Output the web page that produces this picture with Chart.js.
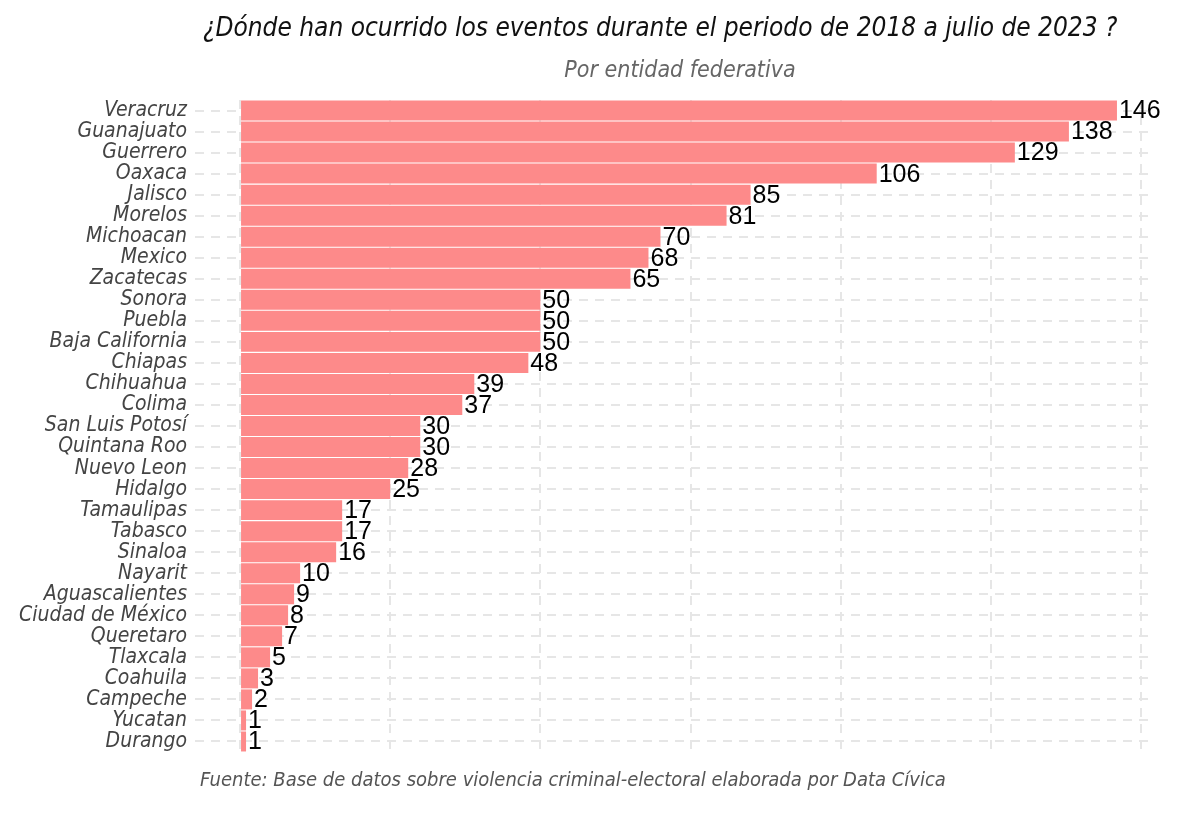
<!DOCTYPE html>
<html>
<head>
<meta charset="utf-8">
<script src="https://cdn.jsdelivr.net/npm/chart.js@4/dist/chart.umd.min.js"></script>
<style>
  body { margin: 0; background: #fff; }
  #wrap { position: relative; width: 1200px; height: 818px; }
  .txt { position: absolute; font-family: "Liberation Sans Narrow", "DejaVu Sans Condensed", sans-serif; font-style: italic; white-space: nowrap; }
  #title { top: 12px; left: 203px; font-size: 26px; color: #111; }
  #subtitle { top: 56px; left: 0; width: 1360px; text-align: center; font-size: 23px; color: #666; }
  #footer { top: 767px; left: 200px; font-size: 20px; color: #555; }
  canvas { position: absolute; left: 0; top: 0; }
</style>
</head>
<body>
<div id="wrap">
  <canvas id="myChart" width="1200" height="818"></canvas>
  <div class="txt" id="title">¿Dónde han ocurrido los eventos durante el periodo de 2018 a julio de 2023 ?</div>
  <div class="txt" id="subtitle">Por entidad federativa</div>
  <div class="txt" id="footer">Fuente: Base de datos sobre violencia criminal-electoral elaborada por Data Cívica</div>
</div>
<script>
const states = ['Veracruz', 'Guanajuato', 'Guerrero', 'Oaxaca', 'Jalisco', 'Morelos', 'Michoacan', 'Mexico',
  'Zacatecas', 'Sonora', 'Puebla', 'Baja California', 'Chiapas', 'Chihuahua', 'Colima', 'San Luis Potosí',
  'Quintana Roo', 'Nuevo Leon', 'Hidalgo', 'Tamaulipas', 'Tabasco', 'Sinaloa', 'Nayarit', 'Aguascalientes',
  'Ciudad de México', 'Queretaro', 'Tlaxcala', 'Coahuila', 'Campeche', 'Yucatan', 'Durango'];
const events = [146, 138, 129, 106, 85, 81, 70, 68, 65, 50, 50, 50, 48, 39, 37, 30, 30, 28, 25, 17, 17, 16,
  10, 9, 8, 7, 5, 3, 2, 1, 1];
const gridValues = [0, 25, 50, 75, 100, 125, 150];

// numbers at the end of each bar
const barLabels = {
  id: 'barLabels',
  afterDatasetsDraw(chart) {
    const ctx = chart.ctx;
    const meta = chart.getDatasetMeta(0);
    ctx.save();
    ctx.font = '25px "Liberation Sans", Arial, sans-serif';
    ctx.fillStyle = '#000';
    ctx.textBaseline = 'middle';
    meta.data.forEach((bar, i) => {
      ctx.fillText(String(events[i]), bar.x + 2, bar.y + 1);
    });
    ctx.restore();
  }
};

const ctx = document.getElementById('myChart').getContext('2d');
new Chart(ctx, {
  type: 'bar',
  data: {
    labels: states,
    datasets: [{
      data: events,
      backgroundColor: '#fd8a8a',
      barPercentage: 0.95,
      categoryPercentage: 1
    }]
  },
  options: {
    indexAxis: 'y',
    responsive: false,
    animation: false,
    layout: { padding: { top: 100, bottom: 66, right: 47, left: 0 } },
    plugins: { legend: { display: false }, tooltip: { enabled: false } },
    scales: {
      x: {
        min: -7.5,
        max: 152,
        afterBuildTicks: (s) => { s.ticks = gridValues.map(v => ({ value: v })); },
        ticks: { display: false },
        grid: { color: '#e6e6e6', lineWidth: 2, drawTicks: false },
        border: { display: false, dash: [9, 7] }
      },
      y: {
        afterFit: (s) => { s.width = 195; },
        ticks: {
          color: '#444',
          padding: 8,
          autoSkip: false,
          font: { family: '"Liberation Sans Narrow", "DejaVu Sans Condensed", sans-serif', style: 'italic', size: 21 }
        },
        grid: { offset: false, color: '#e6e6e6', lineWidth: 2, drawTicks: false },
        border: { display: false, dash: [9, 7] }
      }
    }
  },
  plugins: [barLabels]
});
</script>
</body>
</html>
